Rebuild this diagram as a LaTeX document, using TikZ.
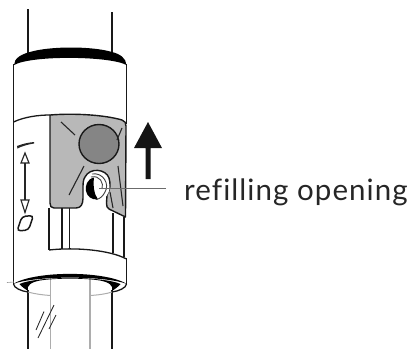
\documentclass[tikz,border=0pt]{standalone}
\usepackage{fontspec}
\setmainfont[LetterSpace=3.6,Ligatures=NoCommon]{Lato}
\tikzset{
 ln/.style={line width=1.3pt,black!90},
 thin ln/.style={line width=1.15pt,black!85},
 gl/.style={line width=1.3pt,black!32},
 mark ln/.style={line width=1.1pt,black!85}
}
\begin{document}
\begin{tikzpicture}[x=1pt,y=-1pt]
\useasboundingbox (0,0) rectangle (414,349);
% top tube
\draw[ln] (28,9) -- (28,53);
\draw[ln] (112,12) -- (112,53);
% body
\draw[ln] (13.5,64) -- (13.5,285);
\draw[ln] (126.5,64) -- (126.5,124);
\draw[ln] (126.5,258) -- (126.5,285);
% top black ring
\fill[black] (14,65) .. controls (14,58) and (22,54) .. (30,52) .. controls (50,46) and (92,46) .. (112,52) .. controls (120,54) and (126,58) .. (126.5,65) .. controls (110,56) and (32,55) .. (14,65) -- cycle;
% plate top curve
\draw[ln] (13.5,122) .. controls (24,117) and (38,115) .. (50,115);
% gray plate
\draw[line width=1.4pt,black!90,fill=black!28,line join=round]
 (50,115) .. controls (75,113) and (105,115) .. (122,120) .. controls (125,121) and (126,123) .. (126,126)
 -- (125.5,217) -- (109,209) .. controls (107,208) and (106.5,206) .. (106.5,203)
 -- (107,195) .. controls (110,190) and (111,184) .. (109,178) .. controls (106,169) and (90,167) .. (85,177)
 .. controls (83,180) and (83,183) .. (83,190) -- (83,198) .. controls (83,204) and (81,208) .. (76,208)
 -- (54,208) .. controls (51,208) and (50,206) .. (50,203) -- cycle;
% gray dial
\draw[line width=1.4pt,black!90,fill=black!48] (99,144) ellipse [x radius=20,y radius=19.5];
% plate marks
\draw[mark ln] (61,122) -- (75,135);
\draw[mark ln] (122,128) -- (117,140);
\draw[mark ln] (84,166) -- (69,195);
\draw[mark ln] (118,166) -- (123,206);
\draw[mark ln] (110,192) -- (113,208);
% opening
\fill[white] (97,187) ellipse [x radius=12.5,y radius=14];
\draw[line width=.9pt,black!75] (92,174) .. controls (103,172) and (110,184) .. (105,192);
\draw[line width=.9pt,black!75] (91,177) .. controls (100,175) and (104,183) .. (102,189);
\fill[black] (94,177.5) .. controls (87,179) and (85,186) .. (86,191) .. controls (87,196) and (91,200) .. (98,199.5) .. controls (94,194) and (93,186) .. (94,177.5) -- cycle;
\draw[line width=.9pt,black!75] (96,199.5) .. controls (100,199) and (103,196) .. (105,192);
% pointer
\coordinate (p1) at (99,188.5);
\coordinate (p2) at (166,188.5);
\draw[line width=1.2pt,black!58] (p1) -- (p2);
% arrow
\fill[black!92] (148,122) -- (162,148) -- (150.5,148) -- (150.5,179) -- (145.5,179) -- (145.5,148) -- (134,148) -- cycle;
% left symbols
\fill[black!85] (17,146) .. controls (22,144) and (28,142.5) .. (34,142) -- (34,143.5) .. controls (28,144.5) and (22,146) .. (17.5,148.5) -- cycle;
\draw[thin ln,fill=white] (25,153) -- (29,163) -- (21,163) -- cycle;
\draw[thin ln] (25,163) -- (25,200);
\draw[thin ln,fill=white] (25,212.5) -- (29,200) -- (21,200) -- cycle;
\draw[line width=1.5pt,black!90,rounded corners=3.5pt] (22,216.5) -- (33.5,215.5) -- (28.5,230) -- (17,231) -- cycle;
% lower window lines
\draw[ln] (49,208) -- (49,250);
\draw[ln] (62,208) -- (62,249);
\draw[ln] (69.5,208) -- (69.5,249);
\draw[ln] (113,213) -- (113,253);
\draw[ln] (124,217) -- (124,257);
\draw[ln] (49,250) .. controls (75,247) and (110,250) .. (126.5,259);
% tube lower
\draw[gl] (50.5,276) -- (50.5,349);
\draw[gl] (90,276) -- (90,349);
\draw[ln] (28,290) -- (28,349);
\draw[ln] (112,290) -- (112,349);
\draw[line width=1pt,black!32] (28,292) .. controls (35,294) and (43,295) .. (50.5,295.5);
\draw[line width=1pt,black!32] (90,295.5) .. controls (98,295) and (106,294) .. (112,292);
% lower ring outline
\draw[ln] (13.5,284) .. controls (14,288) and (21,291) .. (28,292);
\draw[ln] (126.5,284) .. controls (126,288) and (119,291) .. (112,292);
% band
\fill[black] (13,284) .. controls (35,270.5) and (105,270.5) .. (127,284) .. controls (105,275.5) and (35,275.5) .. (13,284) -- cycle;
% crescents
\fill[black] (19.5,284) .. controls (37,276) and (103,276) .. (120.5,284) .. controls (118,287) and (115,289) .. (112,291)
 .. controls (114,285) and (108,282) .. (100,280.5) .. controls (85,278) and (55,278) .. (40,280.5) .. controls (32,282) and (26,285) .. (28,291)
 .. controls (25,289) and (22,287) .. (19.5,284) -- cycle;
\draw[line width=.6pt,black!40] (7,282.5) -- (14,282);
% hatches
\draw[line width=.85pt,black!85] (44,311.5) -- (36,330);
\draw[line width=.85pt,black!85] (54,305) -- (38,338);
\draw[line width=.85pt,black!85] (56,315) -- (49,329);
% label
\node[anchor=base west,inner sep=0pt,font=\fontsize{29.5}{32}\selectfont,text=black!85] (lab) at (184,200) {refilling opening};
\end{tikzpicture}
\end{document}
